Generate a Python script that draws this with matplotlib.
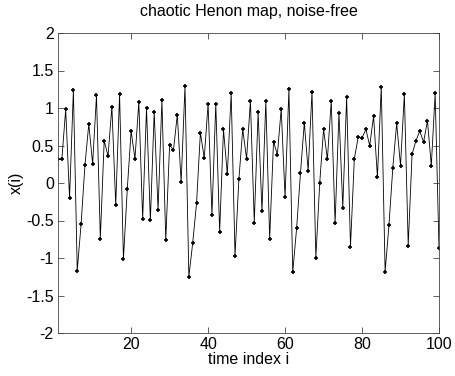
import matplotlib
matplotlib.use("Agg")
import matplotlib.pyplot as plt

time_index = list(range(1, 101))
x_values = [
    0.316, 0.316, 0.982, -0.204, 1.24, -1.169, -0.547, 0.236, 0.787, 0.253,
    1.169, -0.742, 0.564, 0.36, 1.018, -0.298, 1.187, -1.018, -0.084, 0.693,
    0.324, 1.08, -0.48, 1.0, -0.498, 0.947, -0.364, 1.107, -0.764, 0.511,
    0.436, 0.911, 0.009, 1.293, -1.249, -0.8, -0.271, 0.671, 0.333, 1.058,
    -0.431, 1.058, -0.653, 0.716, 0.116, 1.204, -0.969, 0.049, 0.716, 0.324,
    1.093, -0.527, 0.942, -0.378, 1.093, -0.742, 0.551, 0.378, 0.987, -0.191,
    1.249, -1.191, -0.604, 0.129, 0.804, 0.164, 1.218, -0.996, -0.006, 0.716,
    0.316, 1.093, -0.538, 0.938, -0.329, 1.142, -0.849, 0.324, 0.609, 0.6,
    0.716, 0.498, 0.893, 0.076, 1.284, -1.182, -0.56, 0.204, 0.796, 0.231,
    1.187, -0.836, 0.382, 0.564, 0.693, 0.547, 0.831, 0.231, 1.196, -0.871,
]
x_ticks = [20, 40, 60, 80, 100]
y_ticks = [-2, -1.5, -1, -0.5, 0, 0.5, 1, 1.5, 2]
y_tick_labels = ["-2", "-1.5", "-1", "-0.5", "0", "0.5", "1", "1.5", "2"]

plt.rcParams['font.family'] = ['Liberation Sans', 'DejaVu Sans']
fig = plt.figure(figsize=(4.56, 3.76), dpi=100)
ax = fig.add_axes([58/456, 1-333/376, (439-58)/456, 300/376])
ax.plot(time_index, x_values, color='black', lw=0.6, marker='+', ms=3.5, mew=1.2)
ax.set_xlim(1, 100)
ax.set_ylim(-2, 2)
ax.set_xticks(x_ticks)
ax.set_yticks(y_ticks)
ax.set_yticklabels(y_tick_labels)
ax.tick_params(direction='in', top=True, right=True, labelsize=11.5, length=4,
               width=0.6, pad=3, color='#444444')
for s in ax.spines.values():
    s.set_linewidth(0.6)
    s.set_color('#444444')
ax.set_title("chaotic Henon map, noise-free", fontsize=11.5, pad=12)
ax.set_xlabel("time index i", fontsize=11.5, labelpad=0)
ax.set_ylabel("x(i)", fontsize=11.5, labelpad=2)
fig.savefig("out.png", dpi=100)
